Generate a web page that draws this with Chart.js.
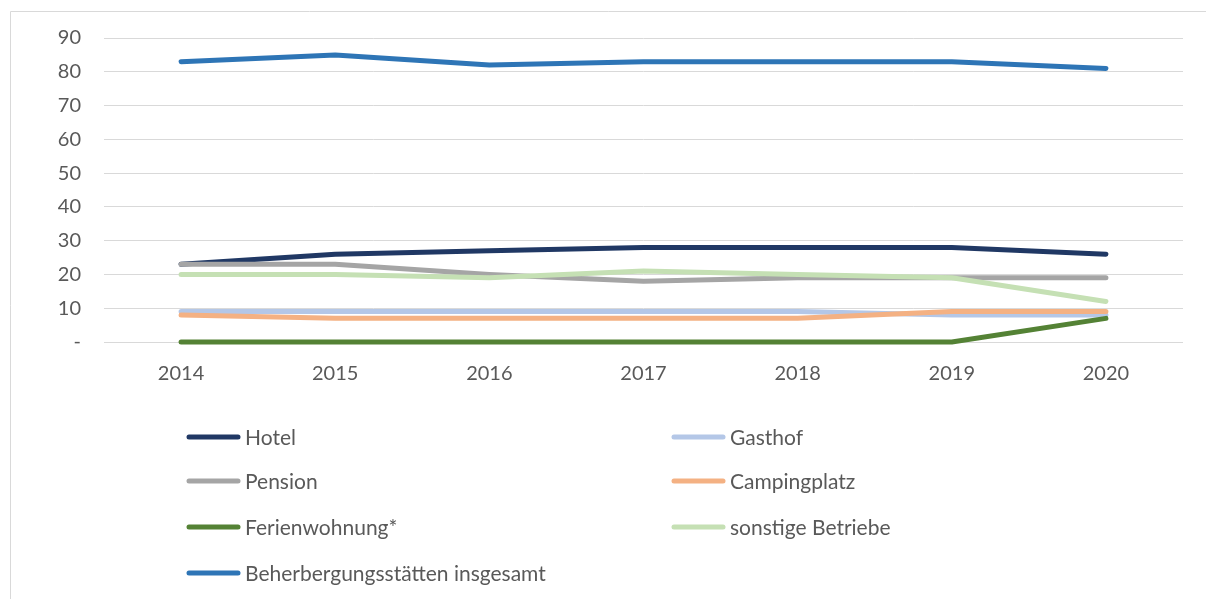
<!DOCTYPE html>
<html>
<head>
<meta charset="utf-8">
<script src="https://cdn.jsdelivr.net/npm/chart.js@4/dist/chart.umd.min.js"></script>
<style>
  html, body { margin: 0; padding: 0; background: #ffffff; }
  #wrap { position: relative; width: 1206px; height: 599px; }
</style>
</head>
<body>
<div id="wrap"><canvas id="c" width="1206" height="599"></canvas></div>
<script>
const years = ['2014', '2015', '2016', '2017', '2018', '2019', '2020'];
const yTicks = [0, 10, 20, 30, 40, 50, 60, 70, 80, 90];

const hotel         = [23, 26, 27, 28, 28, 28, 26];
const gasthof       = [9, 9, 9, 9, 9, 8, 8];
const pension       = [23, 23, 20, 18, 19, 19, 19];
const campingplatz  = [8, 7, 7, 7, 7, 9, 9];
const ferienwohnung = [0, 0, 0, 0, 0, 0, 7];
const sonstige      = [20, 20, 19, 21, 20, 19, 12];
const insgesamt     = [83, 85, 82, 83, 83, 83, 81];

const seriesLabels = ['Hotel', 'Gasthof', 'Pension', 'Campingplatz', 'Ferienwohnung*', 'sonstige Betriebe', 'Beherbergungsstätten insgesamt'];
const seriesData = [hotel, gasthof, pension, campingplatz, ferienwohnung, sonstige, insgesamt];
const seriesColors = ['#203864', '#B4C7E7', '#A5A5A5', '#F4B183', '#548235', '#C5E0B4', '#2E75B6'];

const FONT = 'Lato, "Open Sans", sans-serif';
const TEXT = '#595959';

const datasets = seriesLabels.map((label, i) => ({
  label,
  data: seriesData[i],
  borderColor: seriesColors[i],
  backgroundColor: seriesColors[i],
  borderWidth: 5,
  borderCapStyle: 'round',
  borderJoinStyle: 'round',
  pointRadius: 0,
  tension: 0,
  fill: false,
  clip: false,
  // later series are painted above earlier ones
  order: seriesLabels.length - i
}));

// outer frame of the chart
const framePlugin = {
  id: 'frame',
  beforeDraw(chart) {
    const ctx = chart.ctx;
    ctx.save();
    ctx.strokeStyle = '#d9d9d9';
    ctx.lineWidth = 1;
    ctx.beginPath();
    ctx.moveTo(10.5, 599);
    ctx.lineTo(10.5, 11.5);
    ctx.lineTo(1206, 11.5);
    ctx.stroke();
    ctx.restore();
  }
};

// two-column legend below the plot
const gridLegend = {
  id: 'gridLegend',
  afterDraw(chart) {
    const ctx = chart.ctx;
    const cols = [187, 672];
    const rows = [437, 481, 527, 573];
    ctx.save();
    ctx.font = '21px ' + FONT;
    ctx.textBaseline = 'middle';
    ctx.textAlign = 'left';
    chart.data.datasets.forEach((ds, i) => {
      const x = cols[i % 2];
      const y = rows[Math.floor(i / 2)];
      ctx.strokeStyle = ds.borderColor;
      ctx.lineWidth = 5;
      ctx.lineCap = 'round';
      ctx.beginPath();
      ctx.moveTo(x + 2, y);
      ctx.lineTo(x + 51, y);
      ctx.stroke();
      ctx.fillStyle = TEXT;
      ctx.fillText(ds.label, x + 58, y + 1);
    });
    ctx.restore();
  }
};

new Chart(document.getElementById('c'), {
  type: 'line',
  data: { labels: years, datasets },
  options: {
    responsive: false,
    animation: false,
    layout: { padding: { top: 38, right: 23, bottom: 207, left: 0 } },
    plugins: {
      legend: { display: false },
      tooltip: { enabled: false }
    },
    scales: {
      x: {
        offset: true,
        grid: { display: false, drawTicks: false },
        border: { display: false },
        ticks: { color: TEXT, font: { family: FONT, size: 20 }, padding: 20 },
        afterFit(scale) { scale.height = 50; }
      },
      y: {
        min: 0,
        max: 90,
        afterBuildTicks(scale) { scale.ticks = yTicks.map(v => ({ value: v })); },
        grid: { color: '#d9d9d9', lineWidth: 1, drawTicks: false },
        border: { display: false },
        ticks: {
          color: TEXT,
          font: { family: FONT, size: 20 },
          padding: 23,
          callback: v => (v === 0 ? '-' : v)
        },
        afterFit(scale) { scale.width = 104; }
      }
    }
  },
  plugins: [framePlugin, gridLegend]
});
</script>
</body>
</html>
